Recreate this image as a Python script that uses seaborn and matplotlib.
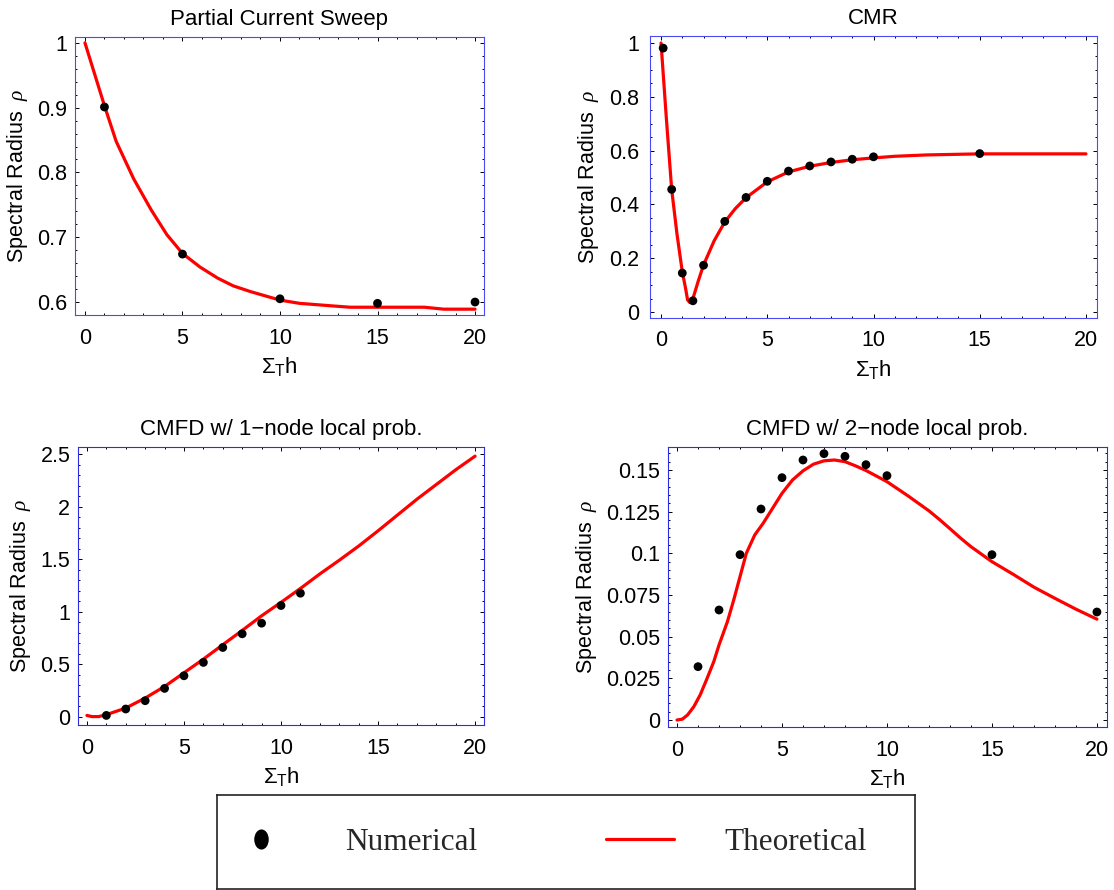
import numpy as np
import pandas as pd
import matplotlib
matplotlib.use("Agg")
import matplotlib.pyplot as plt
import seaborn as sns
from matplotlib.ticker import MultipleLocator, FuncFormatter
from matplotlib.lines import Line2D
from matplotlib.path import Path
from matplotlib.transforms import Affine2D

# ---------------- data ----------------
# Partial Current Sweep
pcs_num_x = [1, 5, 10, 15, 20]
pcs_num_rho = [0.901, 0.674, 0.605, 0.598, 0.600]
pcs_th_x = [0, 1, 1.6, 2.5, 3.4, 4.2, 5, 5.9, 6.8, 7.6, 8.5, 10, 11, 12.7, 13.6, 15, 17.4, 18.4, 20]
pcs_th_rho = [1.0, 0.903, 0.848, 0.790, 0.742, 0.704, 0.675, 0.654, 0.637, 0.625, 0.616,
              0.603, 0.598, 0.594, 0.592, 0.592, 0.592, 0.589, 0.589]

# CMR
cmr_num_x = [0.1, 0.5, 1, 1.5, 2, 3, 4, 5, 6, 7, 8, 9, 10, 15]
cmr_num_rho = [0.981, 0.456, 0.145, 0.042, 0.174, 0.337, 0.426, 0.486, 0.524, 0.543,
               0.558, 0.568, 0.577, 0.589]
cmr_th_x = [0, 0.25, 0.5, 0.75, 1.0, 1.15, 1.25, 1.35, 1.5, 1.75, 2, 2.5, 3, 3.5, 4, 5,
            6, 7, 8, 9, 10, 11, 12.5, 15, 20]
cmr_th_rho = [1.0, 0.72, 0.456, 0.29, 0.15, 0.09, 0.045, 0.036, 0.05, 0.115, 0.175, 0.265,
              0.335, 0.385, 0.425, 0.484, 0.521, 0.542, 0.556, 0.566, 0.573, 0.579, 0.584,
              0.588, 0.588]

# CMFD with 1-node local problem
c1_num_x = [1, 2, 3, 4, 5, 6, 7, 8, 9, 10, 11]
c1_num_rho = [0.015, 0.076, 0.155, 0.272, 0.392, 0.519, 0.661, 0.791, 0.892, 1.06, 1.177]
c1_th_x = [0, 0.25, 0.6, 1, 2, 3, 4, 5, 6, 7, 8, 9, 10, 11, 12, 13, 14, 15, 16, 17, 18, 19, 20]
c1_th_rho = [0.015, 0.004, 0.004, 0.022, 0.085, 0.18, 0.29, 0.42, 0.55, 0.687, 0.823, 0.962,
             1.09, 1.222, 1.36, 1.49, 1.625, 1.77, 1.92, 2.07, 2.21, 2.35, 2.48]

# CMFD with 2-node local problem
c2_num_x = [1, 2, 3, 4, 5, 6, 7, 8, 9, 10, 15, 20]
c2_num_rho = [0.032, 0.066, 0.0992, 0.1266, 0.1454, 0.156, 0.1598, 0.1582, 0.1532, 0.1466,
              0.0992, 0.0648]
c2_th_x = [0, 0.25, 0.5, 0.8, 1.1, 1.4, 1.75, 2, 2.4, 2.7, 3, 3.3, 3.7, 4.1, 4.6, 5, 5.5, 6,
           6.5, 7, 7.5, 8, 8.5, 9, 10, 11, 12, 12.5, 13, 13.5, 14, 15, 16, 17, 18, 19, 20]
c2_th_rho = [0.0, 0.0005, 0.003, 0.008, 0.015, 0.024, 0.035, 0.045, 0.059, 0.072, 0.086, 0.1,
             0.111, 0.118, 0.128, 0.136, 0.144, 0.1495, 0.1535, 0.1555, 0.156, 0.155, 0.1525,
             0.1497, 0.143, 0.1345, 0.1255, 0.1203, 0.1148, 0.1092, 0.1040, 0.095, 0.0875,
             0.0797, 0.0730, 0.0665, 0.0605]

titles = ["Partial Current Sweep", "CMR", "CMFD w/ 1\u2212node local prob.",
          "CMFD w/ 2\u2212node local prob."]
legend_labels = ["Numerical", "Theoretical"]

# ---------------- style ----------------
sns.set_theme(style="white")
plt.rcParams["font.family"] = ["Liberation Sans", "DejaVu Sans"]
plt.rcParams["mathtext.fontset"] = "custom"
plt.rcParams["mathtext.rm"] = "Liberation Sans"
plt.rcParams["mathtext.it"] = "Liberation Serif:italic"
plt.rcParams["mathtext.bf"] = "Liberation Sans:bold"

W, H = 1114, 890
fig = plt.figure(figsize=(W / 100, H / 100), dpi=100)
fig.patch.set_facecolor("white")


def box(l, t, r, b):
    return [l / W, 1 - b / H, (r - l) / W, (b - t) / H]


panels = [
    dict(title=titles[0], pos=box(75, 37, 484, 315), xlim=(-0.51, 20.46), ylim=(0.58, 1.009),
         ymaj=0.1, ymin=0.02, nx=pcs_num_x, ny=pcs_num_rho, tx=pcs_th_x, ty=pcs_th_rho,
         frame="#4b4bf2", ypad=5.5),
    dict(title=titles[1], pos=box(650, 36, 1097, 318), xlim=(-0.52, 20.52), ylim=(-0.022, 1.026),
         ymaj=0.2, ymin=0.05, nx=cmr_num_x, ny=cmr_num_rho, tx=cmr_th_x, ty=cmr_th_rho,
         frame="#4b4bf2", ypad=8.0),
    dict(title=titles[2], pos=box(78, 447, 484, 725), xlim=(-0.46, 20.46), ylim=(-0.076, 2.567),
         ymaj=0.5, ymin=0.1, nx=c1_num_x, ny=c1_num_rho, tx=c1_th_x, ty=c1_th_rho,
         frame="#2e2ee0", ypad=5.5),
    dict(title=titles[3], pos=box(668, 447, 1107, 727), xlim=(-0.43, 20.48), ylim=(-0.0042, 0.1638),
         ymaj=0.025, ymin=0.005, nx=c2_num_x, ny=c2_num_rho, tx=c2_th_x, ty=c2_th_rho,
         frame="#2e2ee0", ypad=5.5),
]

fmt = FuncFormatter(lambda v, p: "%g" % round(v, 6))

for p in panels:
    ax = fig.add_axes(p["pos"])
    ax.set_facecolor("white")
    th = pd.DataFrame({"x": p["tx"], "rho": p["ty"]})
    nm = pd.DataFrame({"x": p["nx"], "rho": p["ny"]})
    sns.lineplot(data=th, x="x", y="rho", ax=ax, color="red", lw=2.3, sort=False,
                 estimator=None, zorder=2)
    sns.scatterplot(data=nm, x="x", y="rho", ax=ax, color="black", s=40, edgecolor="none",
                    zorder=3)
    ax.set_xlim(*p["xlim"])
    ax.set_ylim(*p["ylim"])
    ax.xaxis.set_major_locator(MultipleLocator(5))
    ax.xaxis.set_minor_locator(MultipleLocator(1))
    ax.yaxis.set_major_locator(MultipleLocator(p["ymaj"]))
    ax.yaxis.set_minor_locator(MultipleLocator(p["ymin"]))
    ax.xaxis.set_major_formatter(fmt)
    ax.yaxis.set_major_formatter(fmt)
    ax.tick_params(which="both", direction="in", top=True, right=True, bottom=True, left=True,
                   color="black", width=0.7, labelsize=15.5, labelcolor="black")
    ax.tick_params(which="major", length=3.0)
    ax.tick_params(which="minor", length=1.6)
    ax.tick_params(axis="x", which="major", pad=9.0)
    ax.tick_params(axis="y", which="major", pad=p["ypad"])
    for s in ax.spines.values():
        s.set_visible(True)
        s.set_color(p["frame"])
        s.set_linewidth(0.8)
    ax.set_title(p["title"], fontsize=16, pad=8.5, color="black")
    ax.set_xlabel(r"$\Sigma_\mathrm{T}\mathrm{h}$", fontsize=16, labelpad=4.5, color="black")
    ax.set_ylabel(r"Spectral Radius $\;\rho$", fontsize=15.5, labelpad=5.5, color="black")
    ax.grid(False)

# ---------------- legend ----------------
lax = fig.add_axes(box(217, 795, 915, 889))
lax.set_xticks([])
lax.set_yticks([])
lax.set_facecolor("white")
for s in lax.spines.values():
    s.set_visible(True)
    s.set_color("#222222")
    s.set_linewidth(1.2)

ellipse = Path.unit_circle().transformed(Affine2D().scale(0.72, 1.0))
handles = [
    Line2D([], [], ls="none", marker=ellipse, markersize=14.5, color="black",
           markeredgewidth=0),
    Line2D([], [], color="red", lw=2.3),
]
lax.legend(handles, legend_labels, ncol=2, loc="center left", bbox_to_anchor=(0, 0.5),
           frameon=False, prop={"family": "Liberation Serif", "size": 22.5},
           handlelength=2.2, handletextpad=1.6, columnspacing=4.1,
           borderaxespad=0, borderpad=0.3)

fig.savefig("out.png", dpi=100, facecolor="white")
